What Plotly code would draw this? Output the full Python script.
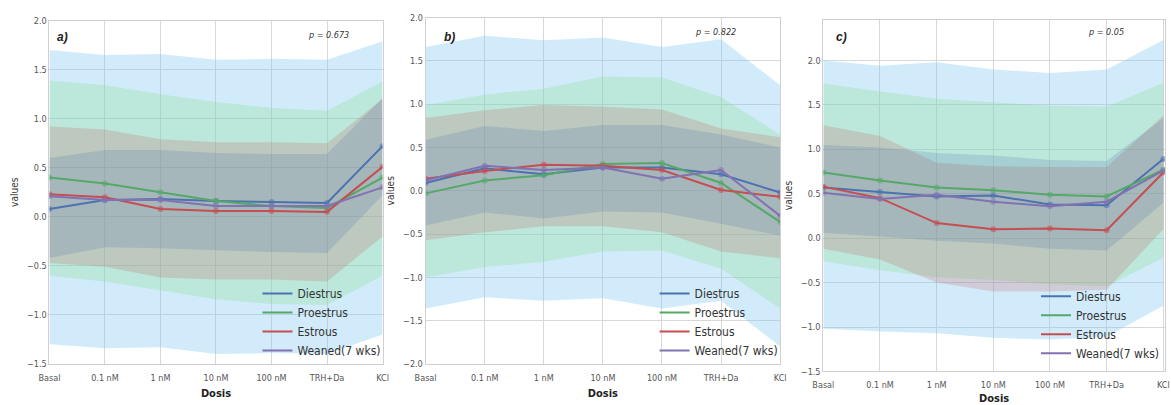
import plotly.graph_objects as go

doses = ["Basal", "0.1 nM", "1 nM", "10 nM", "100 nM", "TRH+Da", "KCl"]
series = ["Diestrus", "Proestrus", "Estrous", "Weaned(7 wks)"]
panel_labels = ["a)", "b)", "c)"]
p_values = ["p = 0.673", "p = 0.822", "p = 0.05"]

# Panel a
a_diestrus = [0.08, 0.17, 0.18, 0.16, 0.15, 0.14, 0.72]
a_proestrus = [0.40, 0.34, 0.25, 0.16, 0.11, 0.09, 0.40]
a_estrous = [0.23, 0.20, 0.08, 0.06, 0.06, 0.05, 0.51]
a_weaned = [0.21, 0.17, 0.17, 0.11, 0.11, 0.11, 0.30]
a_diestrus_lo = [-0.42, -0.31, -0.32, -0.34, -0.36, -0.37, 0.22]
a_diestrus_hi = [0.60, 0.68, 0.68, 0.65, 0.64, 0.64, 1.21]
a_proestrus_lo = [-0.60, -0.66, -0.75, -0.84, -0.89, -0.90, -0.60]
a_proestrus_hi = [1.39, 1.34, 1.25, 1.17, 1.11, 1.08, 1.38]
a_estrous_lo = [-0.47, -0.51, -0.62, -0.64, -0.64, -0.66, -0.20]
a_estrous_hi = [0.92, 0.89, 0.79, 0.76, 0.76, 0.75, 1.20]
a_weaned_lo = [-1.30, -1.34, -1.33, -1.40, -1.39, -1.40, -1.20]
a_weaned_hi = [1.70, 1.65, 1.66, 1.60, 1.61, 1.60, 1.79]

# Panel b
b_diestrus = [0.09, 0.26, 0.19, 0.27, 0.27, 0.19, -0.02]
b_proestrus = [-0.03, 0.12, 0.18, 0.31, 0.32, 0.09, -0.36]
b_estrous = [0.14, 0.23, 0.30, 0.29, 0.24, 0.01, -0.07]
b_weaned = [0.12, 0.29, 0.24, 0.27, 0.14, 0.24, -0.29]
b_diestrus_lo = [-0.40, -0.25, -0.32, -0.24, -0.25, -0.38, -0.52]
b_diestrus_hi = [0.59, 0.75, 0.69, 0.76, 0.76, 0.65, 0.50]
b_proestrus_lo = [-1.00, -0.88, -0.82, -0.70, -0.69, -0.90, -1.36]
b_proestrus_hi = [0.99, 1.11, 1.18, 1.32, 1.31, 1.08, 0.65]
b_estrous_lo = [-0.57, -0.48, -0.41, -0.41, -0.48, -0.70, -0.78]
b_estrous_hi = [0.84, 0.93, 0.99, 0.97, 0.94, 0.72, 0.62]
b_weaned_lo = [-1.36, -1.23, -1.27, -1.24, -1.36, -1.27, -1.80]
b_weaned_hi = [1.66, 1.79, 1.74, 1.77, 1.66, 1.75, 1.22]

# Panel c
c_diestrus = [0.57, 0.52, 0.47, 0.48, 0.38, 0.37, 0.89]
c_proestrus = [0.74, 0.65, 0.57, 0.54, 0.49, 0.47, 0.77]
c_estrous = [0.58, 0.45, 0.17, 0.10, 0.11, 0.09, 0.74]
c_weaned = [0.51, 0.44, 0.49, 0.41, 0.36, 0.41, 0.76]
c_diestrus_lo = [0.06, 0.02, -0.03, -0.06, -0.12, -0.14, 0.40]
c_diestrus_hi = [1.05, 1.02, 0.96, 0.93, 0.88, 0.87, 1.35]
c_proestrus_lo = [-0.26, -0.36, -0.44, -0.47, -0.52, -0.54, -0.22]
c_proestrus_hi = [1.74, 1.65, 1.57, 1.53, 1.49, 1.48, 1.75]
c_estrous_lo = [-0.12, -0.24, -0.50, -0.60, -0.60, -0.58, 0.10]
c_estrous_hi = [1.27, 1.15, 0.85, 0.81, 0.80, 0.80, 1.38]
c_weaned_lo = [-1.02, -1.05, -1.07, -1.12, -1.14, -1.11, -0.76]
c_weaned_hi = [2.00, 1.94, 1.98, 1.90, 1.86, 1.90, 2.23]

line_colors = ["#4C72B0", "#55A868", "#C44E52", "#8172B2"]
band_colors = ["rgba(76,114,176,0.2)", "rgba(140,221,146,0.3)",
               "rgba(196,78,82,0.2)", "rgba(130,200,245,0.36)"]

panels = [
    dict(means=[a_diestrus, a_proestrus, a_estrous, a_weaned],
         lo=[a_diestrus_lo, a_proestrus_lo, a_estrous_lo, a_weaned_lo],
         hi=[a_diestrus_hi, a_proestrus_hi, a_estrous_hi, a_weaned_hi],
         xdom=[39/1171, 377/1171], ydom=[37/405, 389/405], yr=[-1.5, 2.0],
         xr=[0, 6], legend=dict(x=381/1171, y=36/405),
         lab=(45, 33), p=(322, 31)),
    dict(means=[b_diestrus, b_proestrus, b_estrous, b_weaned],
         lo=[b_diestrus_lo, b_proestrus_lo, b_estrous_lo, b_weaned_lo],
         hi=[b_diestrus_hi, b_proestrus_hi, b_estrous_hi, b_weaned_hi],
         xdom=[420.7/1171, 780.5/1171], ydom=[37/405, 392/405], yr=[-2.0, 2.0],
         xr=[0, 6], legend=dict(x=784/1171, y=36/405),
         lab=(437, 33), p=(715, 28)),
    dict(means=[c_diestrus, c_proestrus, c_estrous, c_weaned],
         lo=[c_diestrus_lo, c_proestrus_lo, c_estrous_lo, c_weaned_lo],
         hi=[c_diestrus_hi, c_proestrus_hi, c_estrous_hi, c_weaned_hi],
         xdom=[824.3/1171, 1.0], ydom=[29.3/405, 390/405], yr=[-1.5, 2.46],
         xr=[0, 6.03], legend=dict(x=1171/1171, y=33/405),
         lab=(835, 33), p=(1111, 28)),
]

fig = go.Figure()
narrow = "Liberation Sans Narrow, DejaVu Sans Condensed, sans-serif"
tick_font = dict(family=narrow, size=9, color="#555555")
legend_font = dict(family=narrow, size=12, color="#333333")

for i, pnl in enumerate(panels):
    k = "" if i == 0 else str(i + 1)
    xa, ya = "x" + k, "y" + k
    leg = "legend" + k
    xs = list(range(len(doses)))
    # bands: Weaned first (bottom), then Proestrus, Estrous, Diestrus
    for s in [3, 1, 2, 0]:
        fig.add_trace(go.Scatter(
            x=xs + xs[::-1],
            y=pnl["hi"][s] + pnl["lo"][s][::-1],
            fill="toself", fillcolor=band_colors[s], line=dict(width=0),
            mode="lines", hoverinfo="skip", showlegend=False,
            xaxis=xa, yaxis=ya))
    for s in range(4):
        fig.add_trace(go.Scatter(
            x=xs, y=pnl["means"][s], name=series[s],
            mode="lines",
            line=dict(color=line_colors[s], width=2),
            xaxis=xa, yaxis=ya, legend=leg))
        fig.add_trace(go.Scatter(
            x=xs, y=pnl["means"][s], mode="markers", showlegend=False,
            marker=dict(size=6, color=line_colors[s], opacity=0.55),
            hoverinfo="skip", xaxis=xa, yaxis=ya))
    fig.update_layout(**{
        "xaxis" + k: dict(domain=pnl["xdom"], range=pnl["xr"], anchor=ya,
                          tickmode="array", tickvals=xs,
                          ticktext=doses, tickfont=tick_font, ticklabelstandoff=5,
                          showgrid=True, gridcolor="#d8d8d8", gridwidth=1,
                          showline=True, linecolor="#d0d0d0", mirror=True,
                          zeroline=False, ticks="",
                          title=dict(text="<b>Dosis</b>", font=dict(family=narrow, size=11, color="#222222"), standoff=7)),
        "yaxis" + k: dict(domain=pnl["ydom"], range=pnl["yr"], anchor=xa,
                          dtick=0.5, tick0=0, tickformat=".1f", tickfont=tick_font,
                          showgrid=True, gridcolor="#d8d8d8", gridwidth=1,
                          showline=True, linecolor="#d0d0d0", mirror=True,
                          zeroline=False, ticks="",
                          title=dict(text="values", font=dict(family=narrow, size=10, color="#333333"), standoff=6)),
        leg: dict(x=pnl["legend"]["x"], y=pnl["legend"]["y"], xanchor="right", yanchor="bottom",
                  xref="paper", yref="paper", bgcolor="rgba(0,0,0,0)", font=legend_font,
                  itemwidth=30, tracegroupgap=0),
    })
    fig.add_annotation(text="<b><i>" + panel_labels[i] + "</i></b>", x=pnl["lab"][0] / 1171,
                       y=1 - pnl["lab"][1] / 405, xref="paper", yref="paper",
                       xanchor="left", yanchor="middle", showarrow=False,
                       font=dict(family="Liberation Sans, Arial, sans-serif", size=12, color="#222222"))
    fig.add_annotation(text="<i>" + p_values[i] + "</i>", x=pnl["p"][0] / 1171,
                       y=1 - pnl["p"][1] / 405, xref="paper", yref="paper",
                       xanchor="center", yanchor="middle", showarrow=False,
                       font=dict(family=narrow, size=9, color="#333333"))

fig.update_layout(width=1171, height=405, margin=dict(l=0, r=0, t=0, b=0),
                  paper_bgcolor="white", plot_bgcolor="white")
fig.write_html("out.html")
